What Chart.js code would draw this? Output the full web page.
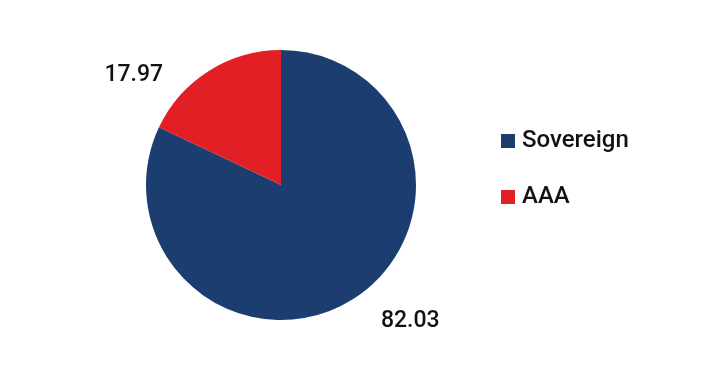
<!DOCTYPE html>
<html>
<head>
<meta charset="utf-8">
<script src="https://cdn.jsdelivr.net/npm/chart.js@4/dist/chart.umd.min.js"></script>
<style>
  html, body { margin: 0; padding: 0; background: #fff; }
  #wrap { width: 710px; height: 387px; }
</style>
</head>
<body>
<div id="wrap"><canvas id="myChart"></canvas></div>
<script>
const categories = ['Sovereign', 'AAA'];
const values = [82.03, 17.97];
const colors = ['#1b3d70', '#e31f26'];

// label offsets from the slice's outer edge point
const labelOffsets = [[57, 22], [-75, 4]];

const outsideLabels = {
    id: 'outsideLabels',
    afterDatasetsDraw(chart) {
        const ctx = chart.ctx;
        const meta = chart.getDatasetMeta(0);
        ctx.save();
        ctx.font = '500 23px Roboto';
        ctx.fillStyle = '#111';
        ctx.textAlign = 'center';
        ctx.textBaseline = 'middle';
        meta.data.forEach((arc, i) => {
            const mid = (arc.startAngle + arc.endAngle) / 2;
            const x = arc.x + Math.cos(mid) * arc.outerRadius + labelOffsets[i][0];
            const y = arc.y + Math.sin(mid) * arc.outerRadius + labelOffsets[i][1];
            ctx.fillText(values[i].toFixed(2), x, y);
        });
        ctx.restore();
    }
};

const sideLegend = {
    id: 'sideLegend',
    afterDraw(chart) {
        const ctx = chart.ctx;
        ctx.save();
        ctx.font = '500 24px Roboto';
        ctx.textBaseline = 'middle';
        categories.forEach((c, i) => {
            const y = 141 + i * 56;
            ctx.fillStyle = colors[i];
            ctx.fillRect(501, y - 7, 14, 14);
            ctx.fillStyle = '#111';
            ctx.fillText(c, 522, y);
        });
        ctx.restore();
    }
};

const ctx = document.getElementById('myChart').getContext('2d');
new Chart(ctx, {
    type: 'pie',
    data: {
        labels: categories,
        datasets: [{
            data: values,
            backgroundColor: colors,
            borderWidth: 0
        }]
    },
    options: {
        responsive: true,
        maintainAspectRatio: false,
        animation: false,
        layout: { padding: { left: 146, top: 50, right: 294, bottom: 67 } },
        plugins: {
            legend: { display: false },
            tooltip: { enabled: false }
        }
    },
    plugins: [outsideLabels, sideLegend]
});
</script>
</body>
</html>
